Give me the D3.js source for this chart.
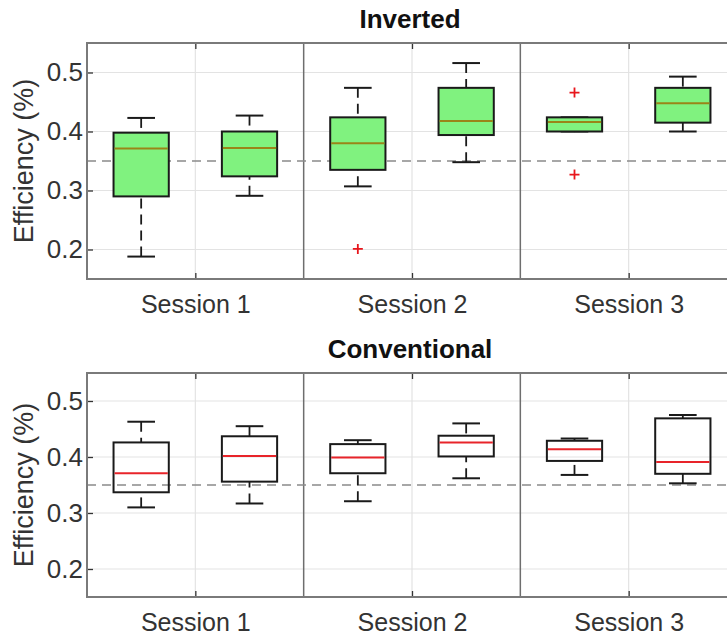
<!DOCTYPE html>
<html>
<head>
<meta charset="utf-8">
<script src="https://cdn.jsdelivr.net/npm/d3@7"></script>
<style>
  body { margin: 0; background: #fff; overflow: hidden; }
  svg { display: block; font-family: "Liberation Sans", Arial, sans-serif; }
</style>
</head>
<body>
<svg id="chart"></svg>
<script>
// categories and tick labels
var sessions = ["Session 1", "Session 2", "Session 3"];
var yTicks = [0.2, 0.3, 0.4, 0.5];
var reference = 0.35;

// Inverted: two boxes per session (6 in total)
var invLow  = [0.188, 0.291, 0.307, 0.348, 0.400, 0.400];
var invQ1   = [0.290, 0.324, 0.335, 0.394, 0.400, 0.415];
var invMed  = [0.371, 0.372, 0.380, 0.418, 0.416, 0.448];
var invQ3   = [0.398, 0.400, 0.424, 0.474, 0.424, 0.474];
var invHigh = [0.423, 0.427, 0.474, 0.516, 0.424, 0.493];
var invOut  = [[], [], [0.201], [], [0.466, 0.327], []];

// Conventional
var convLow  = [0.310, 0.317, 0.321, 0.362, 0.368, 0.353];
var convQ1   = [0.337, 0.356, 0.371, 0.401, 0.393, 0.370];
var convMed  = [0.371, 0.402, 0.399, 0.426, 0.414, 0.391];
var convQ3   = [0.426, 0.437, 0.423, 0.438, 0.429, 0.469];
var convHigh = [0.463, 0.455, 0.430, 0.460, 0.433, 0.475];
var convOut  = [[], [], [], [], [], []];

var width = 727, height = 636;
var left = 87, right = 737;

var svg = d3.select("#chart")
    .attr("width", width)
    .attr("height", height);

var x = d3.scaleLinear().domain([0.5, 6.5]).range([left, right]);
var boxW = x(1.51) - x(1);
var capW = boxW / 2;

function buildStats(lo, q1, med, q3, hi, out) {
    return lo.map(function(d, i) {
        return {pos: i + 1, lo: lo[i], q1: q1[i], med: med[i], q3: q3[i], hi: hi[i], out: out[i]};
    });
}

var panels = [
    {title: "Inverted", top: 43, bottom: 279, fill: "#80f27f", medColor: "#9a8418",
     stats: buildStats(invLow, invQ1, invMed, invQ3, invHigh, invOut)},
    {title: "Conventional", top: 373, bottom: 597, fill: "none", medColor: "#e8242a",
     stats: buildStats(convLow, convQ1, convMed, convQ3, convHigh, convOut)}
];

panels.forEach(function(p) {
    var y = d3.scaleLinear().domain([0.15, 0.55]).range([p.bottom, p.top]);
    var g = svg.append("g");

    // grid
    g.selectAll(".hgrid").data(yTicks).enter().append("line")
        .attr("x1", left).attr("x2", right)
        .attr("y1", function(d) { return y(d); })
        .attr("y2", function(d) { return y(d); })
        .style("stroke", "#e3e3e3").style("stroke-width", 1.2);
    g.selectAll(".vgrid").data([1.5, 3.5, 5.5]).enter().append("line")
        .attr("x1", function(d) { return x(d); })
        .attr("x2", function(d) { return x(d); })
        .attr("y1", p.top).attr("y2", p.bottom)
        .style("stroke", "#e3e3e3").style("stroke-width", 1.2);

    // session dividers
    g.selectAll(".div").data([2.5, 4.5]).enter().append("line")
        .attr("x1", function(d) { return x(d); })
        .attr("x2", function(d) { return x(d); })
        .attr("y1", p.top).attr("y2", p.bottom)
        .style("stroke", "#6e6e6e").style("stroke-width", 1.5);

    // reference line
    g.append("line")
        .attr("x1", left).attr("x2", right)
        .attr("y1", y(reference)).attr("y2", y(reference))
        .style("stroke", "#8a8a8a").style("stroke-width", 1.3)
        .style("stroke-dasharray", "9,6");

    // axes
    var yAxis = d3.axisLeft(y).tickValues(yTicks).tickFormat(d3.format(".1f"))
        .tickSizeInner(-6).tickSizeOuter(0).tickPadding(4);
    var ya = g.append("g").attr("transform", "translate(" + left + ",0)").call(yAxis);
    var xAxis = d3.axisBottom(x).tickValues([1.5, 3.5, 5.5])
        .tickFormat(function(d, i) { return sessions[i]; })
        .tickSizeInner(-6).tickSizeOuter(0).tickPadding(16);
    var xa = g.append("g").attr("transform", "translate(0," + p.bottom + ")").call(xAxis);
    var xt = g.append("g").attr("transform", "translate(0," + p.top + ")")
        .call(d3.axisTop(x).tickValues([1.5, 3.5, 5.5]).tickFormat("").tickSizeInner(-6).tickSizeOuter(0));
    [ya, xa, xt].forEach(function(a) {
        a.select(".domain").remove();
        a.selectAll(".tick line").style("stroke", "#333").style("stroke-width", 1.3);
        a.selectAll("text").style("fill", "#333");
    });
    ya.selectAll("text").style("font-size", "26px");
    xa.selectAll("text").style("font-size", "25px");

    // frame
    g.append("rect")
        .attr("x", left).attr("y", p.top)
        .attr("width", right - left).attr("height", p.bottom - p.top)
        .style("fill", "none").style("stroke", "#7a7a7a").style("stroke-width", 2);

    // whiskers
    var bx = g.selectAll(".box").data(p.stats).enter().append("g");
    bx.append("line")
        .attr("x1", function(d) { return x(d.pos); })
        .attr("x2", function(d) { return x(d.pos); })
        .attr("y1", function(d) { return y(d.hi); })
        .attr("y2", function(d) { return y(d.q3); })
        .style("stroke", "#1a1a1a").style("stroke-width", 1.8).style("stroke-dasharray", "10,6");
    bx.append("line")
        .attr("x1", function(d) { return x(d.pos); })
        .attr("x2", function(d) { return x(d.pos); })
        .attr("y1", function(d) { return y(d.lo); })
        .attr("y2", function(d) { return y(d.q1); })
        .style("stroke", "#1a1a1a").style("stroke-width", 1.8).style("stroke-dasharray", "10,6");
    ["hi", "lo"].forEach(function(k) {
        bx.append("line")
            .attr("x1", function(d) { return x(d.pos) - capW / 2; })
            .attr("x2", function(d) { return x(d.pos) + capW / 2; })
            .attr("y1", function(d) { return y(d[k]); })
            .attr("y2", function(d) { return y(d[k]); })
            .style("stroke", "#1a1a1a").style("stroke-width", 2);
    });

    // boxes
    bx.append("rect")
        .attr("x", function(d) { return x(d.pos) - boxW / 2; })
        .attr("y", function(d) { return y(d.q3); })
        .attr("width", boxW)
        .attr("height", function(d) { return y(d.q1) - y(d.q3); })
        .style("fill", p.fill).style("stroke", "#1a1a1a").style("stroke-width", 2);
    bx.append("line")
        .attr("x1", function(d) { return x(d.pos) - boxW / 2 + 1; })
        .attr("x2", function(d) { return x(d.pos) + boxW / 2 - 1; })
        .attr("y1", function(d) { return y(d.med); })
        .attr("y2", function(d) { return y(d.med); })
        .style("stroke", p.medColor).style("stroke-width", 2);

    // outliers
    var outs = [];
    p.stats.forEach(function(d) { d.out.forEach(function(v) { outs.push({pos: d.pos, v: v}); }); });
    var om = g.selectAll(".out").data(outs).enter().append("g")
        .attr("transform", function(d) { return "translate(" + x(d.pos) + "," + y(d.v) + ")"; });
    om.append("path").attr("d", "M-5,0H5M0,-5V5")
        .style("stroke", "#e8161c").style("stroke-width", 1.8);

    // title and y label
    svg.append("text")
        .attr("x", 410).attr("y", p.top - 15)
        .attr("text-anchor", "middle")
        .style("font-size", "26px").style("font-weight", "bold").style("fill", "#111")
        .text(p.title);
    svg.append("text")
        .attr("transform", "translate(33," + ((p.top + p.bottom) / 2) + ") rotate(-90)")
        .attr("text-anchor", "middle")
        .style("font-size", "27px").style("fill", "#333")
        .text("Efficiency (%)");
});
</script>
</body>
</html>
